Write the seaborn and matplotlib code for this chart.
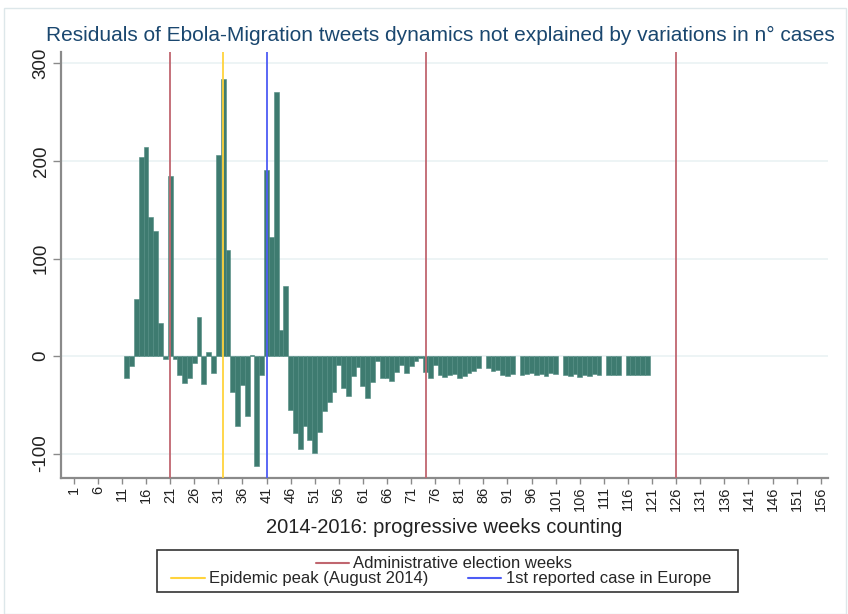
import matplotlib
matplotlib.use("Agg")
import matplotlib.pyplot as plt
import seaborn as sns
import pandas as pd
import numpy as np
from matplotlib.lines import Line2D
from matplotlib.patches import Rectangle

# ---------------- data ----------------
weeks = list(range(12, 121))
residuals = [
    -23, -10, 58, 204, 214, 143, 128, 34, -3, 185,          # 12-21
    -3, -19, -28, -22, -7, 40, -29, 4, -17, 206,            # 22-31
    284, 109, -37, -72, -30, -61, 1, -113, -19, 191,        # 32-41
    122, 271, 27, 72, -55, -79, -95, -72, -86, -99,         # 42-51
    -78, -56, -47, -37, -9, -33, -41, -20, -11, -31,        # 52-61
    -43, -27, -5, -23, -23, -26, -16, -9, -17, -10,         # 62-71
    -5, -2, -16, -23, -9, -19, -21, -19, -18, -22,          # 72-81
    -20, -17, -15, -12, np.nan, -12, -15, -14, -19, -20,    # 82-91
    -18, np.nan, -19, -18, -17, -19, -18, -20, -17, -18,    # 92-101
    np.nan, -19, -20, -18, -21, -19, -20, -18, -19, np.nan, # 102-111
    -19, -19, -19, np.nan, -19, -19, -19, -19, -19,         # 112-120
]
election_weeks = [21, 74, 126]
epidemic_peak_week = [32]
first_europe_case_week = [41]
xtick_values = list(range(1, 157, 5))
ytick_values = [-100, 0, 100, 200, 300]

title = "Residuals of Ebola-Migration tweets dynamics not explained by variations in n° cases"
xlabel = "2014-2016: progressive weeks counting"
legend_labels = ["Administrative election weeks", "Epidemic peak (August 2014)",
                 "1st reported case in Europe"]

# ---------------- style ----------------
BAR = "#3e7b70"
EDGE = "#4f8a80"
RED = "#c0666f"
YELLOW = "#ffd33d"
BLUE = "#4d5cf5"
TITLE_C = "#1a476f"
SPINE = "#8a8a8a"
GRID = "#eaf2f3"

sns.set_theme(style="white")
plt.rcParams["font.family"] = ["Liberation Sans", "DejaVu Sans"]

W, H = 848, 614
fig = plt.figure(figsize=(W / 100, H / 100), dpi=100)
fig.patch.set_facecolor("white")

left, right, top, bottom = 60.7, 828, 51.7, 478
ax = fig.add_axes([left / W, 1 - bottom / H, (right - left) / W, (bottom - top) / H])

df = pd.DataFrame({"week": weeks, "residual": residuals}).dropna()

ax.set_axisbelow(True)
ax.yaxis.grid(True, color=GRID, lw=1.2)

sns.barplot(data=df, x="week", y="residual", native_scale=True, width=1,
            color=BAR, saturation=1, edgecolor=EDGE, linewidth=0.4,
            errorbar=None, orient="x", ax=ax, zorder=2)

for w in election_weeks:
    ax.axvline(w, color=RED, lw=1.3, zorder=3)
for w in epidemic_peak_week:
    ax.axvline(w, color=YELLOW, lw=1.3, zorder=3)
for w in first_europe_case_week:
    ax.axvline(w, color=BLUE, lw=1.3, zorder=3)

ax.set_xlim(-1.7, 157.5)
ax.set_ylim(-125, 312)
ax.set_xticks(xtick_values)
ax.set_xticklabels([str(v) for v in xtick_values], rotation=90, fontsize=10.5,
                   va="top", ha="center")
ax.set_yticks(ytick_values)
ax.set_yticklabels([str(v) for v in ytick_values], rotation=90, fontsize=13.5,
                   va="center", ha="right")
ax.tick_params(axis="x", bottom=True, length=4, width=1, color=SPINE, pad=2,
               labelcolor="#222222")
ax.tick_params(axis="y", left=True, length=6, width=1, color=SPINE, pad=2,
               labelcolor="#222222")
ax.set_xlabel(xlabel, fontsize=14.5, color="#222222", labelpad=5)
ax.set_ylabel("")

for s in ["top", "right"]:
    ax.spines[s].set_visible(False)
for s in ["left", "bottom"]:
    ax.spines[s].set_color(SPINE)
    ax.spines[s].set_linewidth(1.6)

fig.text(440 / W, 1 - 35 / H, title, ha="center", va="center",
         fontsize=15, color=TITLE_C)

# legend (two rows inside one frame)
fig.patches.append(Rectangle((157 / W, 1 - 592 / H), (738 - 157) / W, (592 - 550) / H,
                             transform=fig.transFigure, fill=False,
                             edgecolor="#333333", lw=1.2))
h_red = Line2D([], [], color=RED, lw=1.5)
h_yel = Line2D([], [], color=YELLOW, lw=1.5)
h_blu = Line2D([], [], color=BLUE, lw=1.5)
fig.legend([h_red], [legend_labels[0]], loc="center",
           bbox_to_anchor=(444 / W, 1 - 564 / H), frameon=False, fontsize=12,
           handlelength=2.0, handletextpad=0.25, borderpad=0)
fig.legend([h_yel, h_blu], legend_labels[1:], loc="center", ncol=2,
           bbox_to_anchor=(441 / W, 1 - 579 / H), frameon=False, fontsize=12,
           handlelength=2.0, handletextpad=0.25, columnspacing=2.4, borderpad=0)

# faint outer graph-region border
fig.patches.append(Rectangle((4 / W, 0), (W - 6) / W, 1 - 8 / H,
                             transform=fig.transFigure, fill=False,
                             edgecolor="#dde7ea", lw=1))

fig.savefig("out.png", dpi=100, facecolor="white")
